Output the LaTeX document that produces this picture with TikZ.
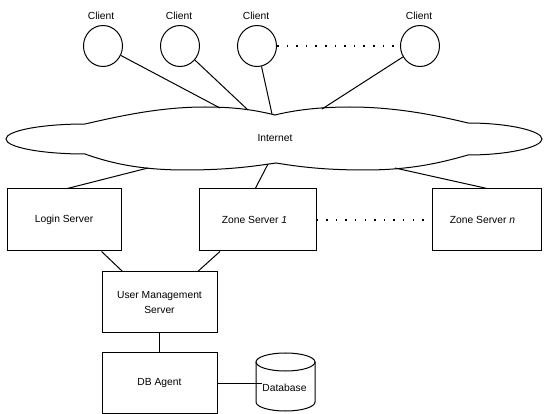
\documentclass[tikz,border=0pt]{standalone}
\usepackage{fontspec}
\usetikzlibrary{shapes.geometric}
\setmainfont{Liberation Sans}
\begin{document}
\begin{tikzpicture}[x=1pt,y=-1pt,line width=1pt,
  font=\fontsize{10.3}{12}\selectfont,
  client/.style={draw,ellipse,minimum width=39pt,minimum height=41pt,inner sep=0pt},
  lbl/.style={inner sep=0pt},
  box/.style={draw,rectangle,minimum height=62pt,inner sep=0pt,align=center},
  dotline/.style={line width=1.5pt,dash pattern=on 1.5pt off 8.1pt}]
\useasboundingbox (0,0) rectangle (544,414);

% clients
\node[client] (c1) at (103,46) {};
\node[client] (c2) at (180,46) {};
\node[client] (c3) at (257,46) {};
\node[client] (c4) at (420,46) {};
\node[lbl] (l1) at (101,15.5) {Client};
\node[lbl] (l2) at (179,15.5) {Client};
\node[lbl] (l3) at (256,15.5) {Client};
\node[lbl] (l4) at (419,15.5) {Client};

% cloud
\draw (85,124) .. controls (120,116) and (160,107) .. (205,107)
  .. controls (235,107) and (255,110) .. (275,115)
  .. controls (295,110) and (320,107) .. (350,107)
  .. controls (395,107) and (435,115) .. (468,123)
  .. controls (509,123) and (542,131) .. (542,139)
  .. controls (542,147) and (509,155) .. (468,155)
  .. controls (440,163) and (410,170) .. (365,170)
  .. controls (320,170) and (295,166) .. (276,163)
  .. controls (255,166) and (230,170) .. (185,170)
  .. controls (140,170) and (110,163) .. (85,154)
  .. controls (41.4,154) and (6,147.3) .. (6,139)
  .. controls (6,130.7) and (41.4,124) .. (85,124) -- cycle;
\node[lbl] (inet) at (275,138) {Internet};
\coordinate (cl1) at (220,108);
\coordinate (cl2) at (248,110);
\coordinate (cl3) at (272,114);
\coordinate (cl4) at (322,109);
\coordinate (cs1) at (148,168);
\coordinate (cs2) at (268,164);
\coordinate (cs3) at (395,168);

\draw (c1) -- (cl1);
\draw (c2) -- (cl2);
\draw (c3) -- (cl3);
\draw (c4) -- (cl4);
\draw[dotline] (c3) -- (c4);

% servers
\node[box,minimum width=114pt] (login) at (64,220) {Login Server};
\node[box,minimum width=117pt] (z1) at (257.5,220) {Zone Server \textit{1}\hspace{6pt}};
\node[box,minimum width=109pt] (zn) at (486.5,220) {Zone Server \textit{n}\hspace{8pt}};
\draw (cs1) -- (login.84.5);
\draw (cs2) -- (z1.94.6);
\draw (cs3) -- (zn.89);
\draw[dotline] (z1) -- (zn);

\node[box,minimum width=115pt,minimum height=61pt,
  font=\fontsize{10.3}{15}\selectfont] (ums) at (159.5,302.5) {User Management\\Server};
\draw (login.-40.7) -- (ums.140.1);
\draw (z1.-140.3) -- (ums.39.1);

\node[box,minimum width=115pt,minimum height=60pt] (dba) at (159.5,383) {DB Agent};
\draw (ums) -- (dba);

% database cylinder
\draw (285.5,362) ellipse [x radius=29.5,y radius=9];
\draw (256,362) -- (256,402)
  .. controls (256,407) and (269.2,411) .. (285.5,411)
  .. controls (301.8,411) and (315,407) .. (315,402) -- (315,362);
\node[lbl] (db) at (284.5,388) {Database};
\draw (dba.east) -- (dba.east -| db.west);
\end{tikzpicture}
\end{document}
